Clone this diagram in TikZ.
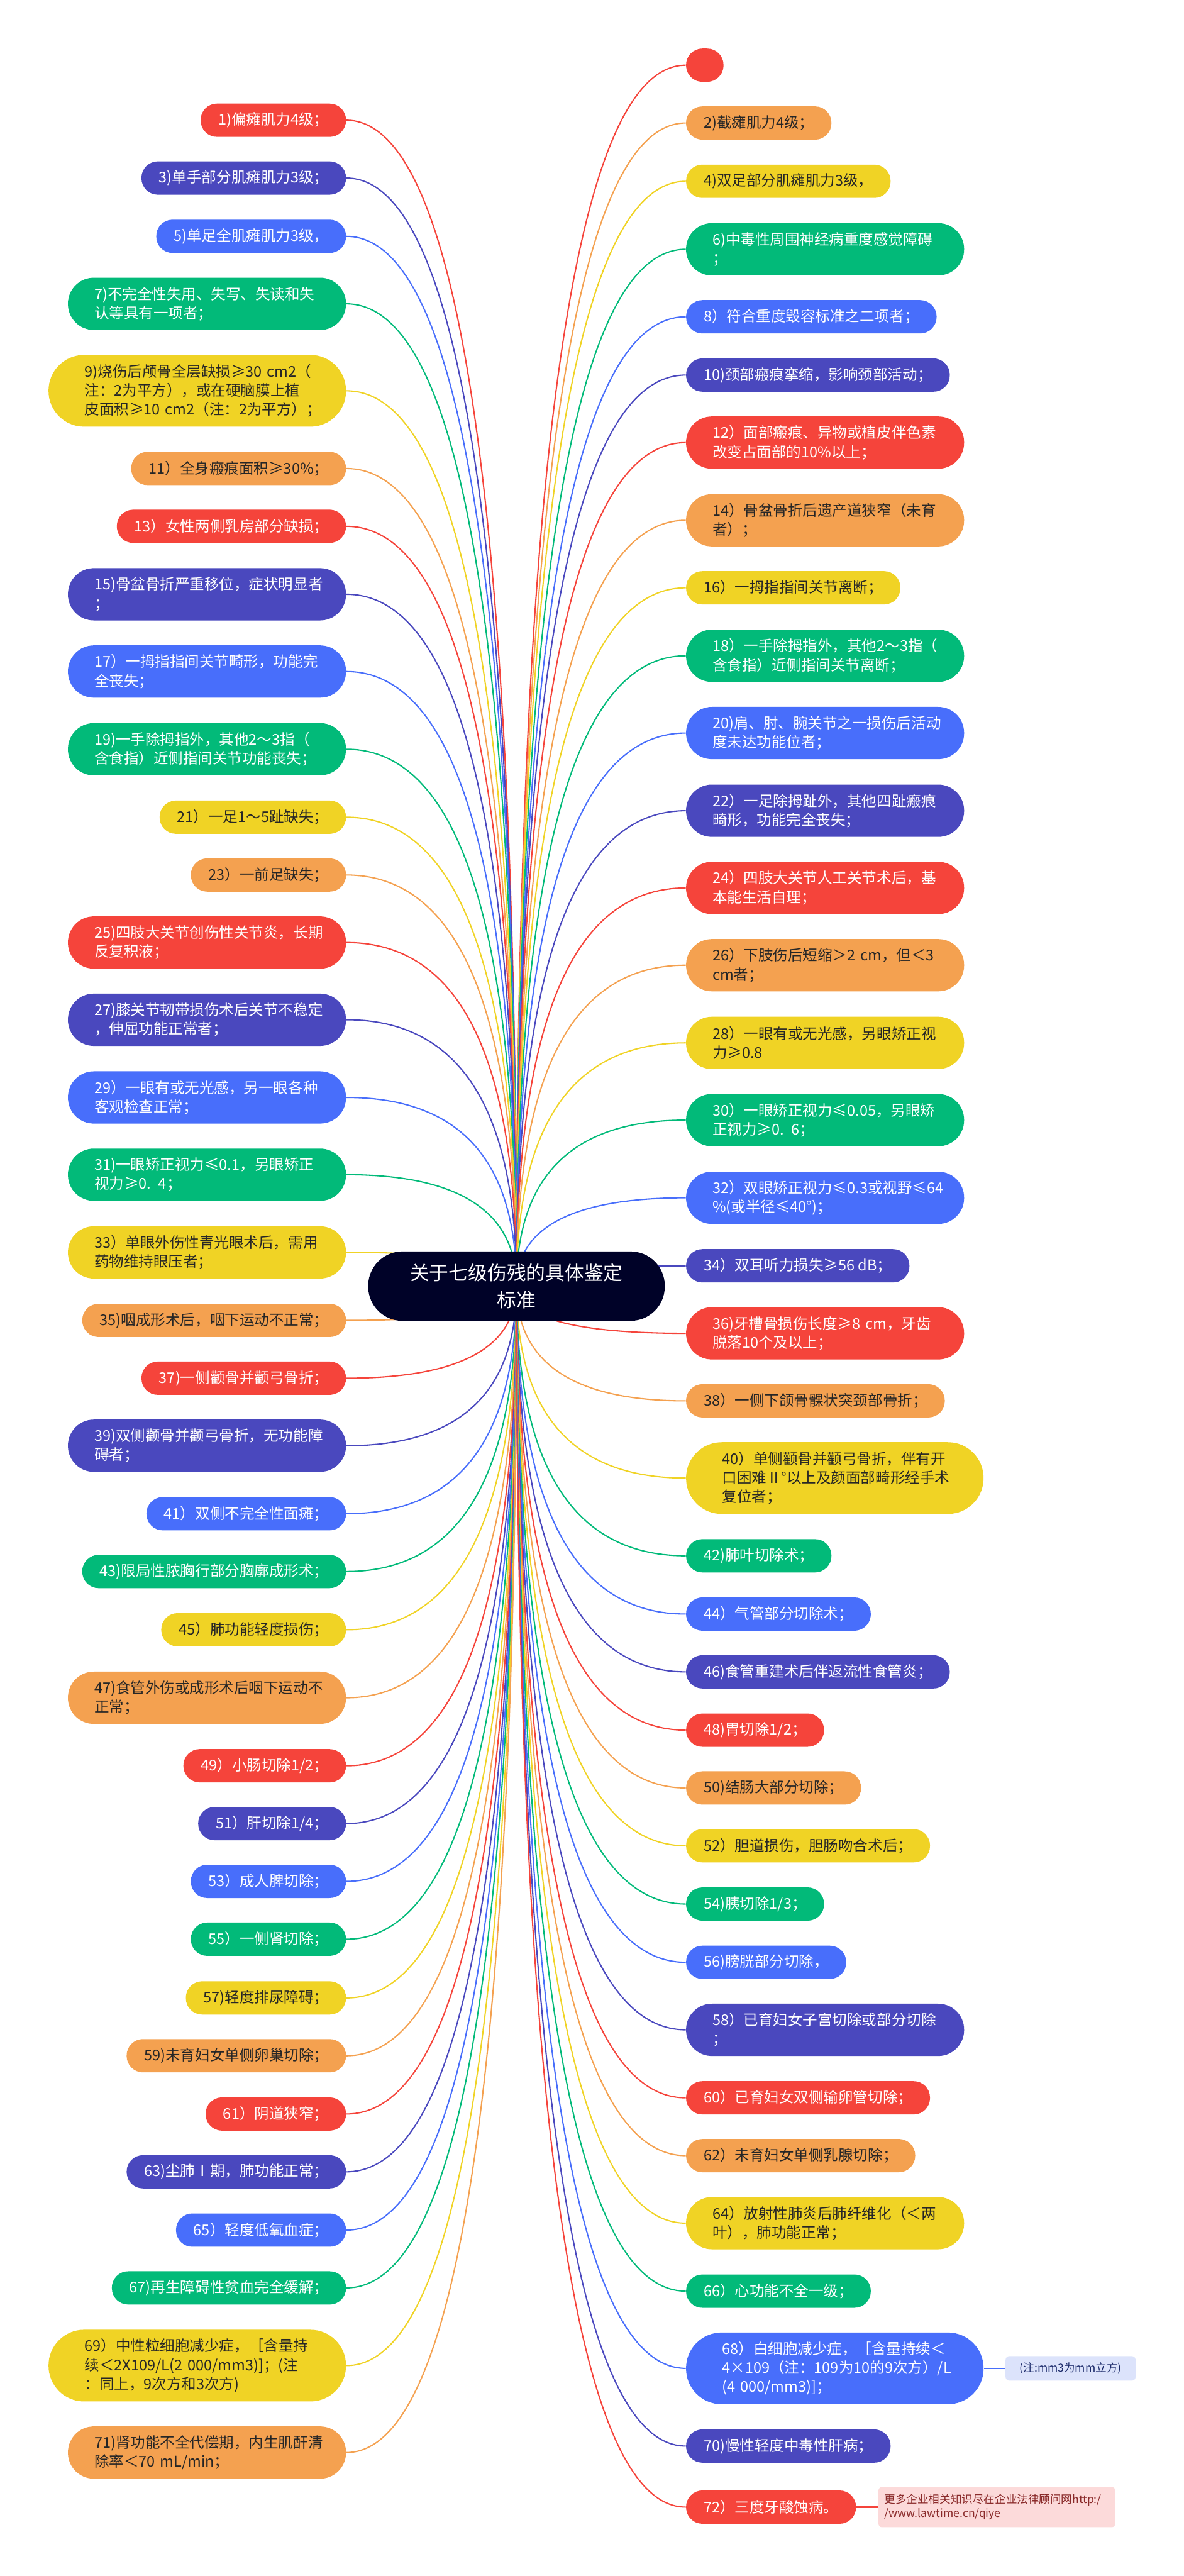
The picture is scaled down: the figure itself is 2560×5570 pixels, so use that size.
\documentclass[tikz,border=0pt]{standalone}
\usepackage{fontspec}
\setmainfont{Noto Sans CJK SC}
\usetikzlibrary{calc,backgrounds}
\definecolor{mmred}{HTML}{F5443B}
\definecolor{mmorange}{HTML}{F4A150}
\definecolor{mmyellow}{HTML}{F0D325}
\definecolor{mmgreen}{HTML}{02BA79}
\definecolor{mmblue}{HTML}{486EFB}
\definecolor{mmindigo}{HTML}{4A48BE}
\definecolor{mmroot}{HTML}{000228}
\definecolor{mmdark}{HTML}{262626}
\definecolor{notebluefill}{HTML}{DCE3FB}
\definecolor{notebluetext}{HTML}{1C2B6B}
\definecolor{noteredfill}{HTML}{FCDADA}
\definecolor{noteredtext}{HTML}{8A2A2A}
\tikzset{
  box/.style={rectangle, inner ysep=0pt, font=\fontsize{9.1pt}{11.7pt}\selectfont},
  one/.style={box, minimum height=0.72cm, rounded corners=0.355cm, inner xsep=0.38cm},
  two/.style={box, minimum height=1.13cm, rounded corners=0.56cm, inner xsep=0.57cm, text width=4.87cm, align=left},
  three/.style={box, minimum height=1.55cm, rounded corners=0.77cm, inner xsep=0.78cm, text width=4.87cm, align=left},
  fred/.style={fill=mmred, text=white},
  forange/.style={fill=mmorange, text=mmdark},
  fyellow/.style={fill=mmyellow, text=mmdark},
  fgreen/.style={fill=mmgreen, text=white},
  fblue/.style={fill=mmblue, text=white},
  findigo/.style={fill=mmindigo, text=white},
  lft/.style={anchor=east},
  rgt/.style={anchor=west},
  link/.style={line width=0.8pt},
  rootbox/.style={rectangle, fill=mmroot, text=white, minimum width=6.41cm, minimum height=1.5cm,
    rounded corners=0.74cm, align=center, font=\fontsize{11.9pt}{16.5pt}\selectfont},
  note/.style={rectangle, rounded corners=0.08cm, font=\fontsize{6.8pt}{8.5pt}\selectfont}
}
\begin{document}
\begin{tikzpicture}[x=0.01cm,y=-0.01cm]
\useasboundingbox (0,0) rectangle (2560,5570);
% centre
\node[rootbox] (root) at (1117,2781) {关于七级伤残的具体鉴定\\标准};
% left column
\node[one,fred,lft] (l1) at (749,260) {1)偏瘫肌力4级；};
\node[one,findigo,lft] (l3) at (749,385) {3)单手部分肌瘫肌力3级；};
\node[one,fblue,lft] (l5) at (749,511) {5)单足全肌瘫肌力3级，};
\node[two,fgreen,lft] (l7) at (749,657) {7)不完全性失用、失写、失读和失\\认等具有一项者；};
\node[three,fyellow,lft] (l9) at (749,845) {9)烧伤后颅骨全层缺损≥30~cm2（\\注：2为平方），或在硬脑膜上植\\皮面积≥10~cm2（注：2为平方）；};
\node[one,forange,lft] (l11) at (749,1013) {11）全身瘢痕面积≥30\%；};
\node[one,fred,lft] (l13) at (749,1138) {13）女性两侧乳房部分缺损；};
\node[two,findigo,lft] (l15) at (749,1285) {15)骨盆骨折严重移位，症状明显者\\；};
\node[two,fblue,lft] (l17) at (749,1452) {17）一拇指指间关节畸形，功能完\\全丧失；};
\node[two,fgreen,lft] (l19) at (749,1620) {19)一手除拇指外，其他2～3指（\\含食指）近侧指间关节功能丧失；};
\node[one,fyellow,lft] (l21) at (749,1767) {21）一足1～5趾缺失；};
\node[one,forange,lft] (l23) at (749,1892) {23）一前足缺失；};
\node[two,fred,lft] (l25) at (749,2038) {25)四肢大关节创伤性关节炎，长期\\反复积液；};
\node[two,findigo,lft] (l27) at (749,2205) {27)膝关节韧带损伤术后关节不稳定\\，伸屈功能正常者；};
\node[two,fblue,lft] (l29) at (749,2373) {29）一眼有或无光感，另一眼各种\\客观检查正常；};
\node[two,fgreen,lft] (l31) at (749,2540) {31)一眼矫正视力≤0.1，另眼矫正\\视力≥0. 4；};
\node[two,fyellow,lft] (l33) at (749,2708) {33）单眼外伤性青光眼术后，需用\\药物维持眼压者；};
\node[one,forange,lft] (l35) at (749,2855) {35)咽成形术后，咽下运动不正常；};
\node[one,fred,lft] (l37) at (749,2980) {37)一侧颧骨并颧弓骨折；};
\node[two,findigo,lft] (l39) at (749,3126) {39)双侧颧骨并颧弓骨折，无功能障\\碍者；};
\node[one,fblue,lft] (l41) at (749,3273) {41）双侧不完全性面瘫；};
\node[one,fgreen,lft] (l43) at (749,3398) {43)限局性脓胸行部分胸廓成形术；};
\node[one,fyellow,lft] (l45) at (749,3524) {45）肺功能轻度损伤；};
\node[two,forange,lft] (l47) at (749,3671) {47)食管外伤或成形术后咽下运动不\\正常；};
\node[one,fred,lft] (l49) at (749,3818) {49）小肠切除1/2；};
\node[one,findigo,lft] (l51) at (749,3943) {51）肝切除1/4；};
\node[one,fblue,lft] (l53) at (749,4068) {53）成人脾切除；};
\node[one,fgreen,lft] (l55) at (749,4193) {55）一侧肾切除；};
\node[one,fyellow,lft] (l57) at (749,4320) {57)轻度排尿障碍；};
\node[one,forange,lft] (l59) at (749,4445) {59)未育妇女单侧卵巢切除；};
\node[one,fred,lft] (l61) at (749,4571) {61）阴道狭窄；};
\node[one,findigo,lft] (l63) at (749,4696) {63)尘肺Ⅰ期，肺功能正常；};
\node[one,fblue,lft] (l65) at (749,4822) {65）轻度低氧血症；};
\node[one,fgreen,lft] (l67) at (749,4947) {67)再生障碍性贫血完全缓解；};
\node[three,fyellow,lft] (l69) at (749,5115) {69）中性粒细胞减少症，［含量持\\续＜2X109/L(2~000/mm3)]；(注\\：同上，9次方和3次方)};
\node[two,forange,lft] (l71) at (749,5303) {71)肾功能不全代偿期，内生肌酐清\\除率＜70~mL/min；};
% right column
\node[fred, rectangle, minimum width=0.81cm, minimum height=0.72cm, rounded corners=0.355cm, inner sep=0pt, rgt] (r0) at (1483,141) {};
\node[one,forange,rgt] (r2) at (1483,266) {2)截瘫肌力4级；};
\node[one,fyellow,rgt] (r4) at (1483,392) {4)双足部分肌瘫肌力3级，};
\node[two,fgreen,rgt] (r6) at (1483,539) {6)中毒性周围神经病重度感觉障碍\\；};
\node[one,fblue,rgt] (r8) at (1483,685) {8）符合重度毁容标准之二项者；};
\node[one,findigo,rgt] (r10) at (1483,811) {10)颈部瘢痕挛缩，影响颈部活动；};
\node[two,fred,rgt] (r12) at (1483,957) {12）面部瘢痕、异物或植皮伴色素\\改变占面部的10\%以上；};
\node[two,forange,rgt] (r14) at (1483,1125) {14）骨盆骨折后遗产道狭窄（未育\\者）；};
\node[one,fyellow,rgt] (r16) at (1483,1271) {16）一拇指指间关节离断；};
\node[two,fgreen,rgt] (r18) at (1483,1418) {18）一手除拇指外，其他2～3指（\\含食指）近侧指间关节离断；};
\node[two,fblue,rgt] (r20) at (1483,1585) {20)肩、肘、腕关节之一损伤后活动\\度未达功能位者；};
\node[two,findigo,rgt] (r22) at (1483,1753) {22）一足除拇趾外，其他四趾瘢痕\\畸形，功能完全丧失；};
\node[two,fred,rgt] (r24) at (1483,1920) {24）四肢大关节人工关节术后，基\\本能生活自理；};
\node[two,forange,rgt] (r26) at (1483,2087) {26）下肢伤后短缩＞2~cm，但＜3\\cm者；};
\node[two,fyellow,rgt] (r28) at (1483,2255) {28）一眼有或无光感，另眼矫正视\\力≥0.8};
\node[two,fgreen,rgt] (r30) at (1483,2422) {30）一眼矫正视力≤0.05，另眼矫\\正视力≥0. 6；};
\node[two,fblue,rgt] (r32) at (1483,2590) {32）双眼矫正视力≤0.3或视野≤64\\\%(或半径≤40°)；};
\node[one,findigo,rgt] (r34) at (1483,2737) {34）双耳听力损失≥56 dB；};
\node[two,fred,rgt] (r36) at (1483,2883) {36)牙槽骨损伤长度≥8~cm，牙齿\\脱落10个及以上；};
\node[one,forange,rgt] (r38) at (1483,3029) {38）一侧下颌骨髁状突颈部骨折；};
\node[three,fyellow,rgt] (r40) at (1483,3196) {40）单侧颧骨并颧弓骨折，伴有开\\口困难Ⅱ°以上及颜面部畸形经手术\\复位者；};
\node[one,fgreen,rgt] (r42) at (1483,3364) {42)肺叶切除术；};
\node[one,fblue,rgt] (r44) at (1483,3490) {44）气管部分切除术；};
\node[one,findigo,rgt] (r46) at (1483,3615) {46)食管重建术后伴返流性食管炎；};
\node[one,fred,rgt] (r48) at (1483,3741) {48)胃切除1/2；};
\node[one,forange,rgt] (r50) at (1483,3866) {50)结肠大部分切除；};
\node[one,fyellow,rgt] (r52) at (1483,3991) {52）胆道损伤，胆肠吻合术后；};
\node[one,fgreen,rgt] (r54) at (1483,4117) {54)胰切除1/3；};
\node[one,fblue,rgt] (r56) at (1483,4243) {56)膀胱部分切除，};
\node[two,findigo,rgt] (r58) at (1483,4389) {58）已育妇女子宫切除或部分切除\\；};
\node[one,fred,rgt] (r60) at (1483,4536) {60）已育妇女双侧输卵管切除；};
\node[one,forange,rgt] (r62) at (1483,4661) {62）未育妇女单侧乳腺切除；};
\node[two,fyellow,rgt] (r64) at (1483,4807) {64）放射性肺炎后肺纤维化（＜两\\叶），肺功能正常；};
\node[one,fgreen,rgt] (r66) at (1483,4954) {66）心功能不全一级；};
\node[three,fblue,rgt] (r68) at (1483,5121) {68）白细胞减少症，［含量持续＜\\4×109（注：109为10的9次方）/L\\(4~000/mm3)]；};
\node[one,findigo,rgt] (r70) at (1483,5289) {70)慢性轻度中毒性肝病；};
\node[one,fred,rgt] (r72) at (1483,5421) {72）三度牙酸蚀病。};
% notes
\node[note, fill=notebluefill, text=notebluetext, minimum width=2.81cm, minimum height=0.53cm, rgt] (n68) at (2174,5121) {(注:mm3为mm立方)};
\node[note, fill=noteredfill, text=noteredtext, minimum height=0.87cm, text width=4.86cm, inner xsep=0.13cm, align=left, rgt] (n72) at (1899,5421) {更多企业相关知识尽在企业法律顾问网http:/\\/www.lawtime.cn/qiye};
% connectors
\begin{pgfonlayer}{background}
\foreach \n/\c in {l1/mmred, l3/mmindigo, l5/mmblue, l7/mmgreen, l9/mmyellow, l11/mmorange,
  l13/mmred, l15/mmindigo, l17/mmblue, l19/mmgreen, l21/mmyellow, l23/mmorange,
  l25/mmred, l27/mmindigo, l29/mmblue, l31/mmgreen, l33/mmyellow, l35/mmorange,
  l37/mmred, l39/mmindigo, l41/mmblue, l43/mmgreen, l45/mmyellow, l47/mmorange,
  l49/mmred, l51/mmindigo, l53/mmblue, l55/mmgreen, l57/mmyellow, l59/mmorange,
  l61/mmred, l63/mmindigo, l65/mmblue, l67/mmgreen, l69/mmyellow, l71/mmorange}
  \draw[link,\c] (\n.east) .. controls ($(\n.east)!2/3!(\n.east -| root)$) and ($(root)!2/3!(\n.east -| root)$) .. (root.center);
\foreach \n/\c in {r0/mmred, r2/mmorange, r4/mmyellow, r6/mmgreen, r8/mmblue, r10/mmindigo,
  r12/mmred, r14/mmorange, r16/mmyellow, r18/mmgreen, r20/mmblue, r22/mmindigo,
  r24/mmred, r26/mmorange, r28/mmyellow, r30/mmgreen, r32/mmblue, r34/mmindigo,
  r36/mmred, r38/mmorange, r40/mmyellow, r42/mmgreen, r44/mmblue, r46/mmindigo,
  r48/mmred, r50/mmorange, r52/mmyellow, r54/mmgreen, r56/mmblue, r58/mmindigo,
  r60/mmred, r62/mmorange, r64/mmyellow, r66/mmgreen, r68/mmblue, r70/mmindigo, r72/mmred}
  \draw[link,\c] (root.center) .. controls ($(root)!2/3!(\n.west -| root)$) and ($(\n.west)!2/3!(\n.west -| root)$) .. (\n.west);
\draw[link,mmblue] (r68.east) -- (n68.west);
\draw[link,mmred] (r72.east) -- (n72.west);
\end{pgfonlayer}
\end{tikzpicture}
\end{document}
